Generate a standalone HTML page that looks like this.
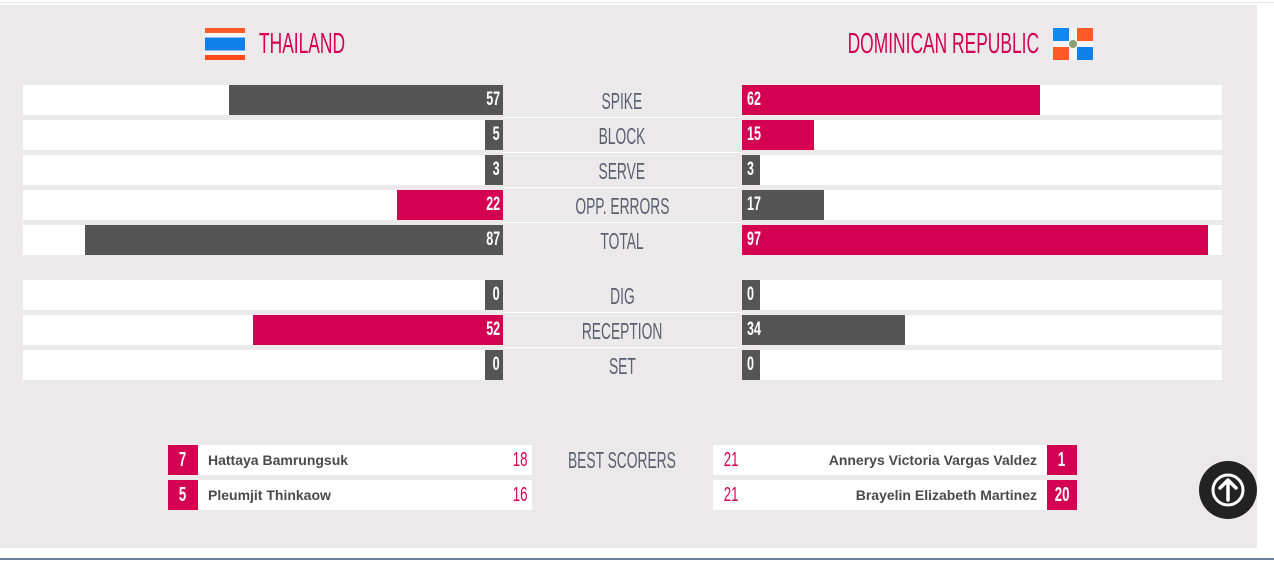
<!DOCTYPE html>
<html><head><meta charset="utf-8"><style>
*{margin:0;padding:0;box-sizing:border-box}
body{width:1274px;height:561px;background:#fff;position:relative;overflow:hidden;font-family:"Liberation Sans",sans-serif}
.panel{position:absolute;left:0;top:5px;width:1257px;height:543px;background:#ebe9ea}
.tl{position:absolute;left:0;top:2px;width:1274px;height:1px;background:#e4e4e4}
.bl{position:absolute;left:0;top:558px;width:1274px;height:2px;background:#6b7f99}
.a{position:absolute}
.track{position:absolute;height:30px;background:#fff}
.bar{position:absolute;height:30px;color:#fff;font-weight:bold;font-size:19px;line-height:30px;white-space:nowrap}
.d{background:#555}.r{background:#d40052}
.n{display:inline-block;transform:scaleX(.66);}
.L .n{transform-origin:right center;position:absolute;right:3px}
.R .n{transform-origin:left center;position:absolute;left:5px}
.lab{position:absolute;left:502px;width:240px;height:30px;line-height:30px;text-align:center;color:#5a6070;font-size:23px;white-space:nowrap}
.lab span{display:inline-block;transform:scaleX(.6)}
.hd{position:absolute;color:#d40052;font-size:29px;line-height:30px;white-space:nowrap}
.hd span{display:inline-block;transform:scaleX(.6)}
.sc{position:absolute;height:30px;background:#fff;font-size:14px;font-weight:bold;color:#4a4a4a;line-height:30px;white-space:nowrap}
.box{position:absolute;width:30px;height:30px;background:#d40052;color:#fff;font-weight:bold;font-size:20px;text-align:center;line-height:30px}
.box span,.pts span{display:inline-block;transform:scaleX(.66)}
.pts{position:absolute;color:#d40052;font-size:20px;line-height:30px}
</style></head><body>
<div class="tl"></div>
<div class="panel"></div>
<div class="bl"></div>

<div class="a" style="left:205px;top:28px;width:40px;height:32px;background:linear-gradient(#ff5a2a 0 16%,#f4f4f4 16% 30%,#1080e8 30% 70%,#f4f4f4 70% 84%,#ff4a1a 84%)"></div>
<div class="hd" style="left:259px;top:29px;width:120px"><span style="transform-origin:left center">THAILAND</span></div>
<div class="hd" style="left:700px;top:29px;width:339px;text-align:right"><span style="transform-origin:right center">DOMINICAN REPUBLIC</span></div>
<div class="a" style="left:1053px;top:28px;width:40px;height:32px;background:#f4f4f4">
<div class="a" style="left:0;top:0;width:16px;height:13px;background:#1088f0"></div>
<div class="a" style="left:24px;top:0;width:16px;height:13px;background:#ff5a28"></div>
<div class="a" style="left:0;top:19px;width:16px;height:13px;background:#ff5a28"></div>
<div class="a" style="left:24px;top:19px;width:16px;height:13px;background:#1080e8"></div>
<div class="a" style="left:16px;top:12px;width:8px;height:8px;border-radius:50%;background:#8aa070"></div>
</div>

<div class="track" style="left:23px;top:85px;width:480px"></div>
<div class="track" style="left:23px;top:120px;width:480px"></div>
<div class="track" style="left:23px;top:155px;width:480px"></div>
<div class="track" style="left:23px;top:190px;width:480px"></div>
<div class="track" style="left:23px;top:225px;width:480px"></div>
<div class="track" style="left:23px;top:280px;width:480px"></div>
<div class="track" style="left:23px;top:315px;width:480px"></div>
<div class="track" style="left:23px;top:350px;width:480px"></div>
<div class="track" style="left:742px;top:85px;width:480px"></div>
<div class="track" style="left:742px;top:120px;width:480px"></div>
<div class="track" style="left:742px;top:155px;width:480px"></div>
<div class="track" style="left:742px;top:190px;width:480px"></div>
<div class="track" style="left:742px;top:225px;width:480px"></div>
<div class="track" style="left:742px;top:280px;width:480px"></div>
<div class="track" style="left:742px;top:315px;width:480px"></div>
<div class="track" style="left:742px;top:350px;width:480px"></div>

<div class="L">
<div class="bar d" style="left:229px;top:85px;width:274px"><span class="n">57</span></div>
<div class="bar d" style="left:485px;top:120px;width:18px"><span class="n">5</span></div>
<div class="bar d" style="left:485px;top:155px;width:18px"><span class="n">3</span></div>
<div class="bar r" style="left:397px;top:190px;width:106px"><span class="n">22</span></div>
<div class="bar d" style="left:85px;top:225px;width:418px"><span class="n">87</span></div>
<div class="bar d" style="left:485px;top:280px;width:18px"><span class="n">0</span></div>
<div class="bar r" style="left:253px;top:315px;width:250px"><span class="n">52</span></div>
<div class="bar d" style="left:485px;top:350px;width:18px"><span class="n">0</span></div>
</div>
<div class="R">
<div class="bar r" style="left:742px;top:85px;width:298px"><span class="n">62</span></div>
<div class="bar r" style="left:742px;top:120px;width:72px"><span class="n">15</span></div>
<div class="bar d" style="left:742px;top:155px;width:18px"><span class="n">3</span></div>
<div class="bar d" style="left:742px;top:190px;width:82px"><span class="n">17</span></div>
<div class="bar r" style="left:742px;top:225px;width:466px"><span class="n">97</span></div>
<div class="bar d" style="left:742px;top:280px;width:18px"><span class="n">0</span></div>
<div class="bar d" style="left:742px;top:315px;width:163px"><span class="n">34</span></div>
<div class="bar d" style="left:742px;top:350px;width:18px"><span class="n">0</span></div>
</div>

<div class="a" style="left:503px;top:117px;width:239px;height:1px;background:#fff"></div>
<div class="a" style="left:503px;top:152px;width:239px;height:1px;background:#fff"></div>
<div class="a" style="left:503px;top:187px;width:239px;height:1px;background:#fff"></div>
<div class="a" style="left:503px;top:222px;width:239px;height:1px;background:#fff"></div>
<div class="a" style="left:503px;top:312px;width:239px;height:1px;background:#fff"></div>
<div class="a" style="left:503px;top:347px;width:239px;height:1px;background:#fff"></div>

<div class="lab" style="top:86px"><span>SPIKE</span></div>
<div class="lab" style="top:121px"><span>BLOCK</span></div>
<div class="lab" style="top:156px"><span>SERVE</span></div>
<div class="lab" style="top:191px"><span>OPP. ERRORS</span></div>
<div class="lab" style="top:226px"><span>TOTAL</span></div>
<div class="lab" style="top:281px"><span>DIG</span></div>
<div class="lab" style="top:316px"><span>RECEPTION</span></div>
<div class="lab" style="top:351px"><span>SET</span></div>
<div class="lab" style="top:445px"><span>BEST SCORERS</span></div>

<div class="box" style="left:168px;top:445px"><span>7</span></div>
<div class="sc" style="left:198px;top:445px;width:334px;padding-left:10px">Hattaya Bamrungsuk</div>
<div class="pts" style="left:509px;top:445px"><span>18</span></div>
<div class="box" style="left:168px;top:480px"><span>5</span></div>
<div class="sc" style="left:198px;top:480px;width:334px;padding-left:10px">Pleumjit Thinkaow</div>
<div class="pts" style="left:509px;top:480px"><span>16</span></div>

<div class="sc" style="left:713px;top:445px;width:334px;padding-right:10px;text-align:right">Annerys Victoria Vargas Valdez</div>
<div class="pts" style="left:720px;top:445px"><span>21</span></div>
<div class="box" style="left:1047px;top:445px"><span>1</span></div>
<div class="sc" style="left:713px;top:480px;width:334px;padding-right:10px;text-align:right">Brayelin Elizabeth Martinez</div>
<div class="pts" style="left:720px;top:480px"><span>21</span></div>
<div class="box" style="left:1047px;top:480px"><span>20</span></div>

<svg class="a" style="left:1198px;top:460px" width="60" height="60" viewBox="0 0 60 60">
<circle cx="30" cy="30" r="29" fill="#222"/>
<circle cx="30" cy="30" r="15" fill="none" stroke="#fff" stroke-width="3"/>
<path d="M30 40V21M22 28l8-8 8 8" fill="none" stroke="#fff" stroke-width="3.5" stroke-linecap="round" stroke-linejoin="round"/>
</svg>
</body></html>
